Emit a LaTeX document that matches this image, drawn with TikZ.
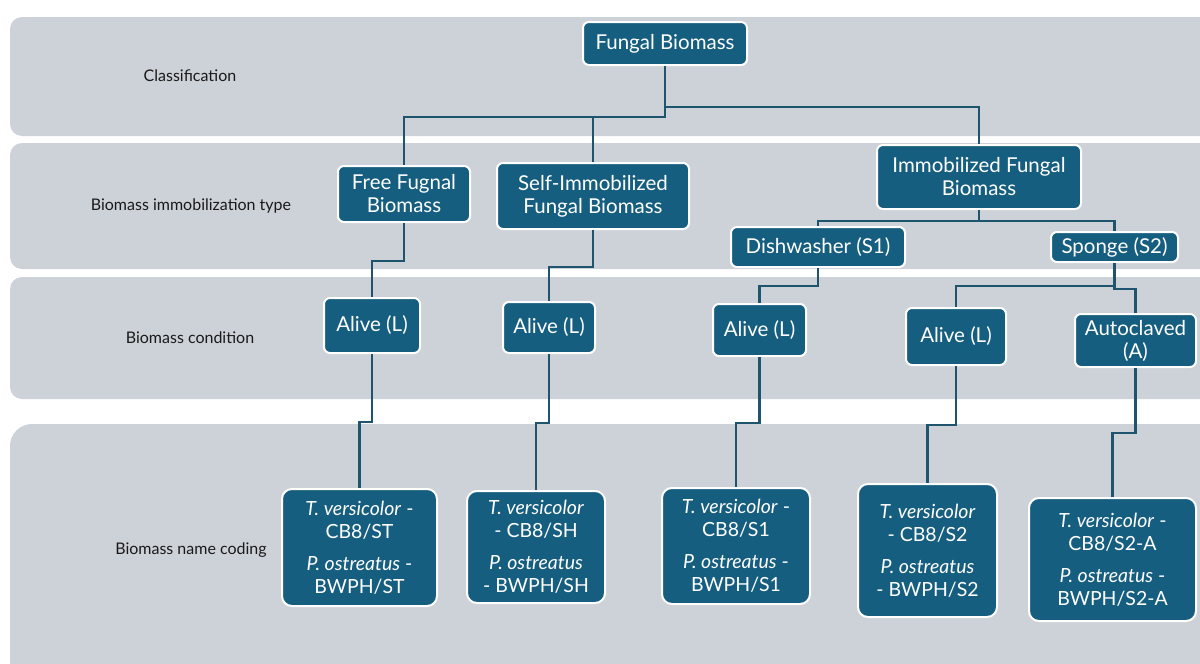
\documentclass[tikz,border=0pt]{standalone}
\usepackage{fontspec}
\setmainfont{Lato}
\usepackage{tikz}
\usetikzlibrary{positioning, calc}

\definecolor{bandgray}{RGB}{205,209,216}
\definecolor{boxblue}{RGB}{22,94,128}
\definecolor{linkblue}{RGB}{30,84,110}
\definecolor{labelgray}{RGB}{26,26,26}

\begin{document}
\begin{tikzpicture}[x=1pt,y=-1pt,
	band/.style={fill=bandgray},
	rowlabel/.style={text=labelgray,font=\fontsize{16}{19}\selectfont},
	box/.style={draw=white,line width=2pt,fill=boxblue,rounded corners=6pt,text=white,
		align=center,inner sep=2pt,font=\fontsize{20.5}{23}\selectfont},
	code/.style={box,rounded corners=10pt,font=\fontsize{19.5}{23}\selectfont},
	link/.style={draw=linkblue,line width=2.5pt}]

\useasboundingbox (0,0) rectangle (1200,664);
\clip (0,0) rectangle (1200,664);

% rows
\fill[band,rounded corners=12pt] (10,17) rectangle (1230,136);
\fill[band,rounded corners=12pt] (10,143) rectangle (1230,269);
\fill[band,rounded corners=12pt] (10,277) rectangle (1230,399);
\fill[band,rounded corners=22pt] (10,424) rectangle (1230,700);

\node[rowlabel] (lclass) at (190,76)  {Classification};
\node[rowlabel] (ltype)  at (191,206) {Biomass immobilization type};
\node[rowlabel] (lcond)  at (190,338) {Biomass condition};
\node[rowlabel] (lcode)  at (191,550) {Biomass name coding};

% boxes
\node[box,minimum width=164pt,minimum height=43pt] (fb)     at (665,43.5)  {Fungal Biomass};
\node[box,minimum width=132pt,minimum height=56pt] (free)   at (404,194)   {Free Fugnal\\Biomass};
\node[box,minimum width=192pt,minimum height=66pt] (self)   at (593,196)   {Self-Immobilized\\Fungal Biomass};
\node[box,minimum width=204pt,minimum height=64pt] (immo)   at (979,177)   {Immobilized Fungal\\Biomass};
\node[box,minimum width=174pt,minimum height=40pt] (dish)   at (818,247)   {Dishwasher (S1)};
\node[box,minimum width=127pt,minimum height=30pt,inner sep=1pt] (sponge) at (1114.5,247) {Sponge (S2)};

\node[box,minimum width=96pt, minimum height=55pt] (alive1) at (372,325.5)  {Alive (L)};
\node[box,minimum width=92pt, minimum height=51pt] (alive2) at (549,327.5)  {Alive (L)};
\node[box,minimum width=93pt, minimum height=52pt] (alive3) at (759.5,330)  {Alive (L)};
\node[box,minimum width=100pt,minimum height=57pt] (alive4) at (956,336.5)  {Alive (L)};
\node[box,minimum width=121pt,minimum height=53pt,inner sep=1pt] (auto) at (1135.5,340.5) {Autoclaved\\(A)};

\node[code,minimum width=155pt,minimum height=117pt] (code1) at (359.5,547.5)
	{\textit{T. versicolor} -\\CB8/ST\\[9pt]\textit{P. ostreatus} -\\BWPH/ST};
\node[code,minimum width=138pt,minimum height=112pt] (code2) at (536,547)
	{\textit{T. versicolor}\\- CB8/SH\\[9pt]\textit{P. ostreatus}\\- BWPH/SH};
\node[code,minimum width=148pt,minimum height=116pt] (code3) at (736,546)
	{\textit{T. versicolor} -\\CB8/S1\\[9pt]\textit{P. ostreatus} -\\BWPH/S1};
\node[code,minimum width=139pt,minimum height=133pt] (code4) at (927.5,550.5)
	{\textit{T. versicolor}\\- CB8/S2\\[9pt]\textit{P. ostreatus}\\- BWPH/S2};
\node[code,minimum width=167pt,minimum height=123pt] (code5) at (1112.5,559.5)
	{\textit{T. versicolor} -\\CB8/S2-A\\[9pt]\textit{P. ostreatus} -\\BWPH/S2-A};

% connectors
\path[link]
	(fb.south) -- ++(0,51) -| (free.north)
	(fb.south) -- ++(0,51) -| (self.north)
	(fb.south) -- ++(0,41) -| (immo.north)
	(immo.south) -- ++(0,11) -| (dish.north)
	(immo.south) -- ++(0,11) -| (sponge.north)
	(free.south) -- ++(0,38) -| (alive1.north)
	(self.south) -- ++(0,37) -| (alive2.north)
	(dish.south) -- ++(0,18) -| (alive3.north)
	(sponge.south) -- ++(0,23) -| (alive4.north)
	(sponge.south) -- ++(0,26) -| (auto.north)
	(alive1.south) -- ++(0,68) -| (code1.north)
	(alive2.south) -- ++(0,69) -| (code2.north)
	(alive3.south) -- ++(0,66) -| (code3.north)
	(alive4.south) -- ++(0,59) -| (code4.north)
	(auto.south) -- ++(0,65) -| (code5.north);

\end{tikzpicture}
\end{document}
